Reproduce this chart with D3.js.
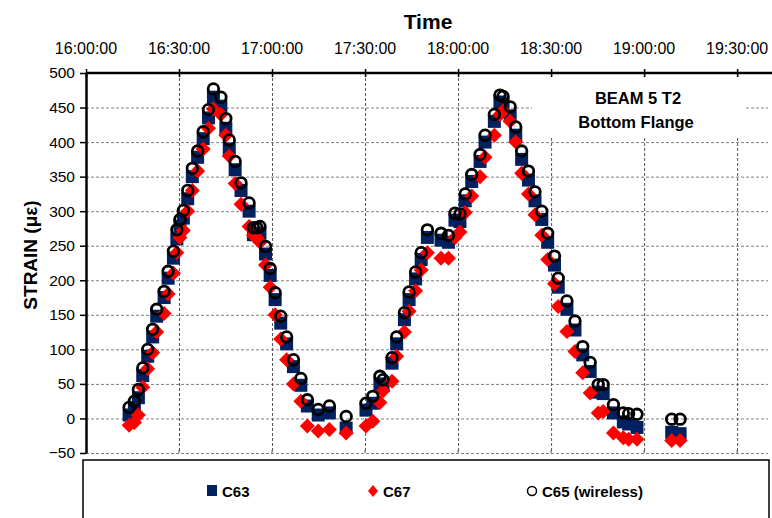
<!DOCTYPE html>
<html>
<head>
<meta charset="utf-8">
<script src="https://cdn.jsdelivr.net/npm/d3@7"></script>
<style>
    body { margin: 0; background: #fff; }
    svg { font-family: "Liberation Sans", Arial, sans-serif; }
</style>
</head>
<body>
<svg id="chart" width="772" height="518"></svg>
<script>
// data
const times = ['16:13:54', '16:15:36', '16:16:54', '16:18:18', '16:19:54', '16:21:30', '16:22:48', '16:25:12',
    '16:26:30', '16:28:12', '16:29:18', '16:30:18', '16:31:24', '16:32:48', '16:34:18', '16:36:00',
    '16:37:48', '16:39:30', '16:41:06', '16:43:30', '16:45:06', '16:46:12', '16:48:06', '16:50:00',
    '16:52:36', '16:54:00', '16:55:06', '16:56:06', '16:57:54', '16:59:24', '17:01:00', '17:02:48',
    '17:04:42', '17:06:54', '17:09:18', '17:11:24', '17:14:54', '17:18:30', '17:23:54', '17:30:18',
    '17:32:30', '17:34:48', '17:35:48', '17:38:42', '17:40:12', '17:42:42', '17:44:12', '17:46:18',
    '17:48:06', '17:50:06', '17:54:30', '17:56:54', '17:59:00', '18:00:36', '18:02:18', '18:04:24',
    '18:07:06', '18:08:42', '18:11:42', '18:13:30', '18:14:30', '18:16:48', '18:18:36', '18:20:30',
    '18:22:42', '18:24:48', '18:27:00', '18:28:54', '18:31:06', '18:32:18', '18:35:06', '18:37:42',
    '18:40:12', '18:42:36', '18:45:12', '18:46:48', '18:50:06', '18:53:18', '18:55:00', '18:57:42',
    '19:08:54', '19:11:36'];
const c65 = [16, 25, 42, 73, 100, 129, 158, 184,
    213, 242, 273, 288, 301, 330, 362, 387,
    415, 447, 477, 465, 434, 403, 372, 341,
    312, 276, 276, 278, 249, 217, 182, 148,
    118, 85, 58, 27, 13, 18, 3, 22,
    32, 61, 56, 88, 118, 153, 183, 212,
    240, 273, 268, 265, 297, 296, 325, 353,
    382, 410, 440, 468, 466, 451, 422, 387,
    358, 328, 300, 268, 235, 203, 170, 141,
    104, 81, 49, 49, 20, 8, 7, 6,
    -1, -1];
const c63 = [5, 15, 30, 62, 90, 118, 148, 175,
    203, 232, 260, 278, 290, 318, 350, 378,
    405, 435, 465, 452, 420, 390, 360, 330,
    300, 266, 266, 268, 238, 207, 172, 138,
    108, 75, 48, 18, 5, 8, -14, 12,
    22, 50, 48, 80, 108, 143, 172, 202,
    230, 262, 258, 255, 287, 285, 315, 343,
    372, 400, 430, 458, 455, 438, 410, 375,
    345, 315, 288, 255, 222, 190, 158, 128,
    92, 68, 38, 36, 8, -5, -8, -13,
    -20, -22];
const c67 = [-10, -6, 5, 45, 72, 95, 125, 152,
    180, 210, 240, 262, 272, 300, 330, 358,
    390, 420, 448, 440, 410, 380, 340, 310,
    278, 265, 262, 255, 222, 190, 150, 115,
    85, 50, 25, -11, -18, -16, -21, -11,
    -4, 23, 40, 54, 90, 125, 155, 185,
    215, 240, 232, 232, 262, 270, 298, 322,
    350, 378, 410, 440, 445, 430, 400, 355,
    325, 295, 265, 230, 195, 162, 126, 97,
    66, 37, 8, 10, -21, -28, -30, -30,
    -32, -32];
const xTickLabels = ['16:00:00', '16:30:00', '17:00:00', '17:30:00', '18:00:00', '18:30:00', '19:00:00', '19:30:00'];
const yTicks = [-50, 0, 50, 100, 150, 200, 250, 300, 350, 400, 450, 500];
const seriesNames = ['C63', 'C67', 'C65 (wireless)'];

const parse = d3.timeParse('%H:%M:%S');

const margin = { top: 73, left: 86, right: 2, bottom: 65 };
const width = 772, height = 518;
const innerWidth = width - margin.left - margin.right;
const innerHeight = height - margin.top - margin.bottom;

const svg = d3.select('#chart');
const g = svg.append('g').attr('transform', `translate(${margin.left},${margin.top})`);

const xScale = d3.scaleTime()
    .domain([parse('16:00:00'), new Date(+parse('16:00:00') + 220.6 * 60000)])
    .range([0, innerWidth]);
const yScale = d3.scaleLinear().domain([-50, 500]).range([innerHeight, 0]);

const xTicks = xTickLabels.map(parse);

// grid
const gridH = g.append('g')
    .call(d3.axisLeft(yScale).tickValues(yTicks.filter(v => v < 500)).tickSize(-innerWidth + 2).tickFormat(''));
gridH.select('.domain').remove();
gridH.selectAll('text').remove();
gridH.selectAll('line').attr('stroke', '#808080').attr('stroke-dasharray', '3,2');

const gridV = g.append('g')
    .call(d3.axisTop(xScale).tickValues(xTicks.slice(1)).tickSize(-innerHeight).tickFormat(''));
gridV.select('.domain').remove();
gridV.selectAll('text').remove();
gridV.selectAll('line').attr('stroke', '#555').attr('stroke-dasharray', '3,2');

// small ticks on the bottom line
g.append('g').selectAll('line').data(xTicks.slice(1)).join('line')
    .attr('x1', d => xScale(d)).attr('x2', d => xScale(d))
    .attr('y1', innerHeight - 3).attr('y2', innerHeight)
    .attr('stroke', '#555');

// text box behind annotation
g.append('rect')
    .attr('x', 532 - margin.left).attr('y', 78 - margin.top)
    .attr('width', 213).attr('height', 60)
    .attr('fill', '#fff');

// axes
const xAxisG = g.append('g')
    .call(d3.axisTop(xScale).tickValues(xTicks).tickFormat('').tickSizeOuter(0));
xAxisG.select('.domain').attr('stroke', '#000').attr('stroke-width', 2.5).attr('d', `M0,0H${innerWidth + 2}`);
xAxisG.selectAll('.tick text').remove();
xAxisG.selectAll('.tick line').attr('y1', 4).attr('y2', -4).attr('stroke-width', 1.5);

// time labels above the axis
svg.append('g').selectAll('text').data(xTickLabels).join('text')
    .attr('x', d => margin.left + xScale(parse(d)))
    .attr('y', 54)
    .attr('text-anchor', 'middle')
    .attr('font-size', 16)
    .text(d => d);

const yAxisG = g.append('g')
    .call(d3.axisLeft(yScale).tickValues(yTicks).tickSize(6).tickSizeOuter(0).tickPadding(5));
yAxisG.select('.domain').attr('stroke', '#000').attr('stroke-width', 2.5);
yAxisG.selectAll('.tick line').attr('stroke-width', 1.5);
yAxisG.selectAll('.tick text').attr('font-size', 15.5).attr('fill', '#000');

svg.append('text')
    .attr('x', 428).attr('y', 29)
    .attr('text-anchor', 'middle')
    .attr('font-size', 21).attr('font-weight', 'bold')
    .text('Time');

svg.append('text')
    .attr('transform', `translate(37,${margin.top + innerHeight / 2 - 8}) rotate(-90)`)
    .attr('text-anchor', 'middle')
    .attr('font-size', 19).attr('font-weight', 'bold')
    .text('STRAIN (με)');

svg.append('text')
    .attr('x', 638).attr('y', 104)
    .attr('text-anchor', 'middle')
    .attr('font-size', 16.5).attr('font-weight', 'bold')
    .text('BEAM 5 T2');
svg.append('text')
    .attr('x', 636).attr('y', 128)
    .attr('text-anchor', 'middle')
    .attr('font-size', 16.5).attr('font-weight', 'bold')
    .text('Bottom Flange');

// markers
const rows = times.map((t, i) => ({ t: parse(t), a: c63[i], b: c67[i], c: c65[i] }));
const sq = 13, dm = 7.5;

g.append('g').selectAll('rect').data(rows).join('rect')
    .attr('x', d => xScale(d.t) - sq / 2)
    .attr('y', d => yScale(d.a) - sq / 2)
    .attr('width', sq).attr('height', sq)
    .attr('fill', '#002060');

g.append('g').selectAll('path').data(rows).join('path')
    .attr('transform', d => `translate(${xScale(d.t)},${yScale(d.b)})`)
    .attr('d', `M0,${-dm}L${dm},0L0,${dm}L${-dm},0Z`)
    .attr('fill', '#ff0000');

g.append('g').selectAll('circle').data(rows).join('circle')
    .attr('cx', d => xScale(d.t))
    .attr('cy', d => yScale(d.c))
    .attr('r', 5.3)
    .attr('fill', 'none')
    .attr('stroke', '#000')
    .attr('stroke-width', 2.8);

// legend
svg.append('rect')
    .attr('x', 83).attr('y', 460)
    .attr('width', 686).attr('height', 70)
    .attr('fill', '#fff').attr('stroke', '#000').attr('stroke-width', 1.5);

const legend = svg.append('g').attr('font-size', 15).attr('font-weight', 'bold');
const legX = [212, 373, 532];
legend.append('rect').attr('x', legX[0] - 5).attr('y', 485).attr('width', 10).attr('height', 11).attr('fill', '#002060');
legend.append('path').attr('d', `M${legX[1]},485L${legX[1] + 5},491L${legX[1]},497L${legX[1] - 5},491Z`).attr('fill', '#ff0000');
legend.append('circle').attr('cx', legX[2]).attr('cy', 491).attr('r', 4.5)
    .attr('fill', '#fff').attr('stroke', '#000').attr('stroke-width', 1.5);
legend.selectAll('text').data(seriesNames).join('text')
    .attr('x', (d, i) => legX[i] + 10)
    .attr('y', 497)
    .text(d => d);
</script>
</body>
</html>
